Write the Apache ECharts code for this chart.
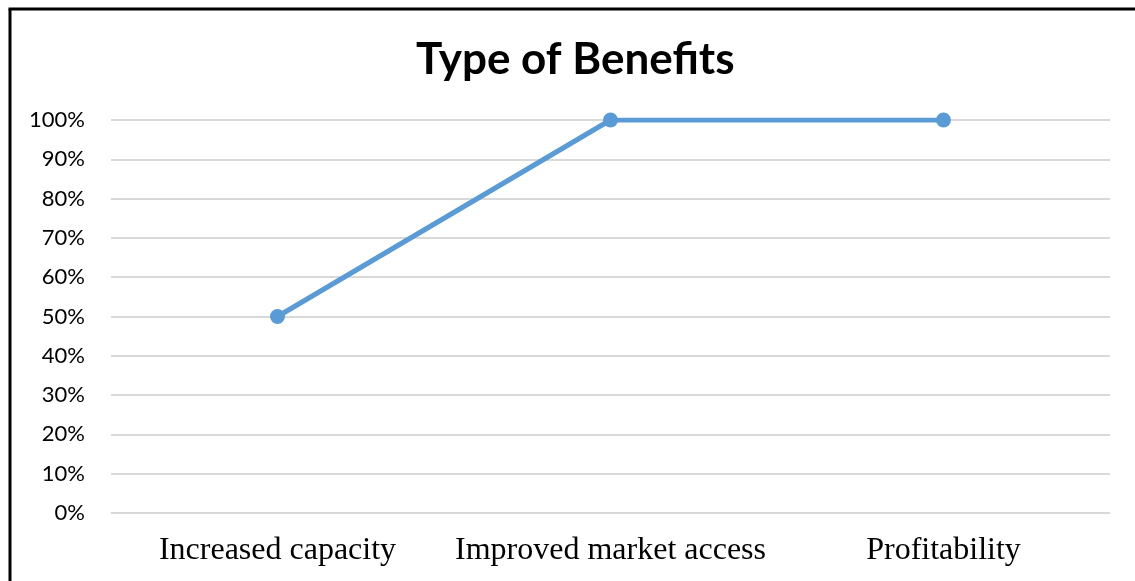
<!DOCTYPE html>
<html>
<head>
<meta charset="utf-8">
<style>
  html, body { margin: 0; padding: 0; background: #ffffff; }
  #chart { width: 1135px; height: 581px; }
</style>
<script src="https://cdn.jsdelivr.net/npm/echarts@6/dist/echarts.min.js"></script>
</head>
<body>
<div id="chart"></div>
<script>
// Share of respondents reporting each type of benefit
const categories = ['Increased capacity', 'Improved market access', 'Profitability'];
const benefitShare = [50, 100, 100];
const yTicks = [0, 10, 20, 30, 40, 50, 60, 70, 80, 90, 100];

const chart = echarts.init(document.getElementById('chart'), null, { renderer: 'canvas' });

chart.setOption({
  backgroundColor: '#ffffff',
  animation: false,
  title: {
    text: 'Type of Benefits',
    left: 411,
    top: 33,
    textStyle: {
      fontFamily: 'Lato',
      fontWeight: 'bold',
      fontSize: 44,
      color: '#000000'
    }
  },
  grid: { left: 111, right: 25, top: 120, bottom: 68, containLabel: false },
  xAxis: {
    type: 'category',
    data: categories,
    boundaryGap: true,
    axisLine: { show: false },
    axisTick: { show: false },
    axisLabel: {
      interval: 0,
      hideOverlap: false,
      margin: 22,
      fontFamily: 'Liberation Serif',
      fontSize: 32,
      color: '#000000'
    }
  },
  yAxis: {
    type: 'value',
    min: yTicks[0],
    max: yTicks[yTicks.length - 1],
    interval: 10,
    axisLine: { show: false },
    axisTick: { show: false },
    splitLine: { lineStyle: { color: '#d9d9d9', width: 2 } },
    axisLabel: {
      margin: 26,
      fontFamily: 'Lato',
      fontSize: 22,
      color: '#000000',
      formatter: v => v + '%'
    }
  },
  series: [{
    type: 'line',
    data: benefitShare,
    symbol: 'circle',
    symbolSize: 15,
    lineStyle: { color: '#5b9bd5', width: 5 },
    itemStyle: { color: '#5b9bd5' }
  }],
  graphic: [
    { type: 'line', shape: { x1: 10, y1: 9, x2: 10, y2: 581 }, style: { stroke: '#000000', lineWidth: 3 } },
    { type: 'line', shape: { x1: 8.5, y1: 9, x2: 1135, y2: 9 }, style: { stroke: '#000000', lineWidth: 3 } }
  ]
});
</script>
</body>
</html>
